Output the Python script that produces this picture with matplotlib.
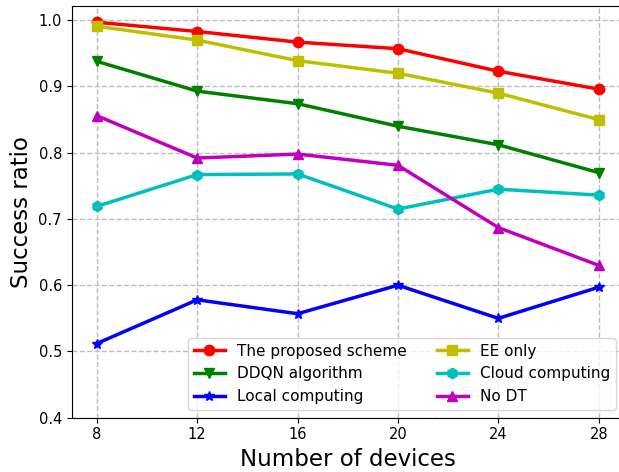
import matplotlib
matplotlib.use("Agg")
import matplotlib.pyplot as plt

# data
devices = [8, 12, 16, 20, 24, 28]
proposed = [0.997, 0.983, 0.967, 0.957, 0.923, 0.896]
ddqn = [0.938, 0.893, 0.874, 0.840, 0.812, 0.770]
local = [0.512, 0.578, 0.557, 0.600, 0.550, 0.597]
ee_only = [0.991, 0.970, 0.939, 0.920, 0.890, 0.850]
cloud = [0.719, 0.767, 0.768, 0.715, 0.745, 0.736]
no_dt = [0.856, 0.792, 0.798, 0.781, 0.687, 0.630]

fig = plt.figure(figsize=(6.19, 4.72), dpi=100)
ax = fig.add_axes([0.1158, 0.115, 0.892, 0.873])

lw, ms = 2.5, 7.5
ax.plot(devices, proposed, "r-o", lw=lw, ms=ms, label="The proposed scheme")
ax.plot(devices, ddqn, "g-v", lw=lw, ms=ms, label="DDQN algorithm")
ax.plot(devices, local, "b-*", lw=lw, ms=ms, label="Local computing")
ax.plot(devices, ee_only, "y-s", lw=lw, ms=ms, label="EE only")
ax.plot(devices, cloud, "c-h", lw=lw, ms=ms, label="Cloud computing")
ax.plot(devices, no_dt, "m-^", lw=lw, ms=ms, label="No DT")

ax.set_xlim(7, 29)
ax.set_ylim(0.4, 1.022)
ax.set_xticks(devices)
ax.set_yticks([0.4, 0.5, 0.6, 0.7, 0.8, 0.9, 1.0])
ax.tick_params(labelsize=10.5)
ax.grid(True, linestyle="--", color="#bdbdbd", lw=1)
ax.spines["right"].set_visible(False)  # cut off at the figure edge in the original
ax.set_xlabel("Number of devices", fontsize=16.5)
ax.set_ylabel("Success ratio", fontsize=16.5)
ax.legend(loc="lower right", ncol=2, fontsize=11)

fig.savefig("out.png", dpi=100)
